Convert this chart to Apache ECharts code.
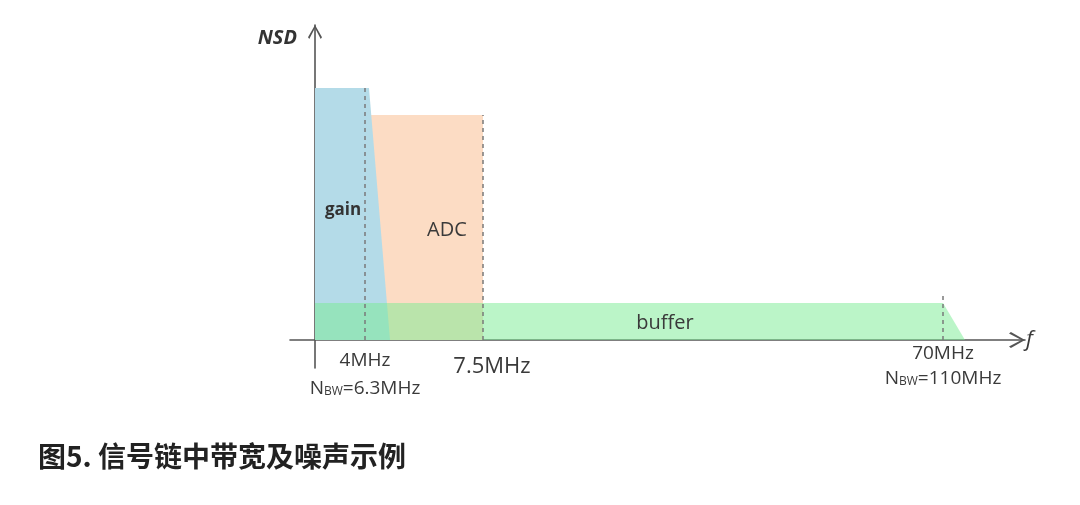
<!DOCTYPE html>
<html>
<head>
<meta charset="utf-8">
<script src="https://cdn.jsdelivr.net/npm/echarts@6/dist/echarts.min.js"></script>
<style>html,body{margin:0;padding:0;background:#fff;}#c{width:1080px;height:505px;}</style>
</head>
<body>
<div id="c"></div>
<script>
// Schematic frequency positions (not to scale), NSD levels in arbitrary units
const freqLabels = ['4MHz', '7.5MHz', '70MHz'];
const nbwLabels = ['6.3MHz', '', '110MHz'];
const edgeX = [50, 168, 628];
const edgeTop = [252, 225, 47];
const gainX = [0, 54, 75];
const gainY = [252, 252, 0];
const adcX = [54, 168];
const adcY = [225, 225];
const bufferX = [0, 628, 650];
const bufferY = [37, 37, 0];
const blockNames = ['gain', 'ADC', 'buffer'];
const titleText = '图5. 信号链中带宽及噪声示例';

const zip = (xs, ys) => xs.map((x, i) => [x, ys[i]]);
const chevron = 'path://M50,0 L100,88 L91,100 L50,22 L9,100 L0,88 Z';
const txt = '#3a3a3a';
const ff = '"Open Sans", "DejaVu Sans", sans-serif';

function areaSeries(name, data, color, labelPos, labelStyle) {
  return {
    type: 'line', name: name, data: data, showSymbol: false, silent: true,
    lineStyle: { width: 0, opacity: 0 },
    areaStyle: { color: color, opacity: 1 },
    markPoint: {
      symbol: 'circle', symbolSize: 0, silent: true,
      data: [{ coord: labelPos, value: name }],
      label: Object.assign({ show: true, position: 'inside', formatter: name, color: txt, fontFamily: ff }, labelStyle)
    }
  };
}

const chart = echarts.init(document.getElementById('c'), null, { renderer: 'canvas' });
chart.setOption({
  animation: false,
  backgroundColor: '#fff',
  title: {
    text: titleText, left: 33, top: 437,
    textStyle: { fontFamily: '"Noto Sans CJK SC", sans-serif', fontSize: 28, fontWeight: 'bold', color: '#222' }
  },
  grid: { left: 290, top: 25, width: 735, height: 343 },
  xAxis: {
    type: 'value', min: -25, max: 710,
    name: 'f', nameLocation: 'end', nameGap: 1,
    nameTextStyle: { fontFamily: ff, fontStyle: 'italic', fontSize: 22, color: txt, align: 'left', verticalAlign: 'middle', padding: [54, 0, 0, 0] },
    axisLine: { onZero: true, lineStyle: { color: '#555', width: 1.6 }, symbol: ['none', chevron], symbolSize: [18, 16], symbolOffset: [0, -8] },
    axisTick: { show: false },
    splitLine: { show: false },
    axisLabel: {
      customValues: edgeX, margin: -24, color: txt, fontFamily: ff,
      formatter: function (v) {
        const i = edgeX.indexOf(v);
        let s = '{t' + i + '|' + freqLabels[i] + '}';
        if (nbwLabels[i]) s += '\n{n' + i + '|N}{s|BW}{n' + i + '|=' + nbwLabels[i] + '}';
        return s;
      },
      rich: {
        t0: { fontSize: 19, lineHeight: 34, color: txt, fontFamily: ff },
        t1: { fontSize: 22, lineHeight: 46, color: txt, fontFamily: ff, padding: [0, 0, 0, 18] },
        t2: { fontSize: 19, lineHeight: 20, color: txt, fontFamily: ff },
        n0: { fontSize: 19, lineHeight: 22, color: txt, fontFamily: ff },
        n2: { fontSize: 19, lineHeight: 30, color: txt, fontFamily: ff },
        s: { fontSize: 12, color: txt, fontFamily: ff, padding: [6, 0, 0, 0] }
      }
    }
  },
  yAxis: {
    type: 'value', min: -28, max: 315,
    name: 'NSD', nameLocation: 'end', nameGap: -13,
    nameTextStyle: { fontFamily: ff, fontStyle: 'italic', fontWeight: 'bold', fontSize: 20, color: '#333', align: 'right', verticalAlign: 'middle', padding: [0, 18, 0, 0] },
    axisLine: { onZero: true, lineStyle: { color: '#555', width: 1.6 }, symbol: ['none', chevron], symbolSize: [16, 14], symbolOffset: [0, -7] },
    axisTick: { show: false },
    splitLine: { show: false },
    axisLabel: { show: false }
  },
  series: [
    areaSeries(blockNames[1], zip(adcX, adcY), '#fcdcc4', [132, 110], { fontSize: 20 }),
    areaSeries(blockNames[0], zip(gainX, gainY), '#b4dbe8', [28, 130], { fontSize: 17, fontWeight: 'bold', color: '#333' }),
    areaSeries(blockNames[2], zip(bufferX, bufferY), 'rgba(120,235,145,0.5)', [350, 17], { fontSize: 20 }),
    {
      type: 'line', data: [], silent: true,
      markLine: {
        symbol: 'none', silent: true, label: { show: false },
        lineStyle: { type: [4, 4], color: '#7a7a7a', width: 1.5 },
        data: edgeX.map((x, i) => [{ coord: [x, 0] }, { coord: [x, edgeTop[i]] }])
      }
    }
  ]
});
</script>
</body>
</html>
